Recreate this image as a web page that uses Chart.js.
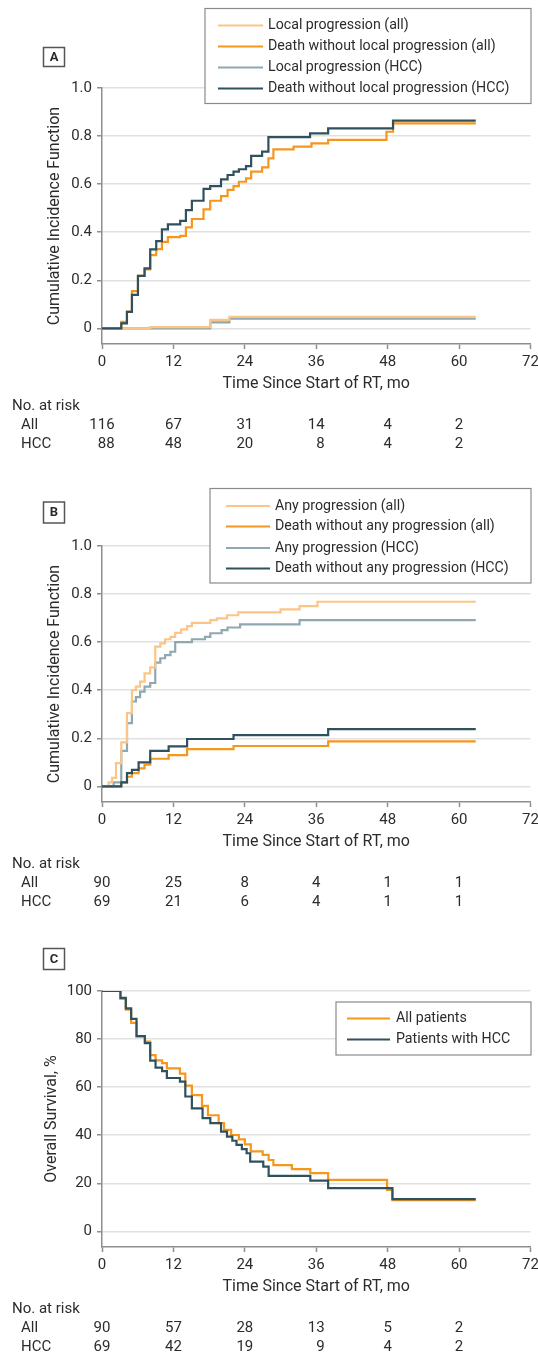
<!DOCTYPE html>
<html>
<head>
<meta charset="utf-8">
<script src="https://cdn.jsdelivr.net/npm/chart.js@4.4.1/dist/chart.umd.min.js"></script>
<style>
html,body{margin:0;padding:0;background:#fff;overflow:hidden;width:538px;height:1359px;}
.panel{position:absolute;left:0;width:538px;overflow:hidden;}
canvas{display:block;}
</style>
</head>
<body>
<div class="panel" style="top:0;height:458px"><canvas id="cA" width="545" height="458"></canvas></div>
<div class="panel" style="top:458px;height:460px"><canvas id="cB" width="545" height="460"></canvas></div>
<div class="panel" style="top:903px;height:456px"><canvas id="cC" width="545" height="456"></canvas></div>
<script>
// ---------- shared axis data ----------
const xTicks = [0, 12, 24, 36, 48, 60, 72];
const riskTimes = [0, 12, 24, 36, 48, 60];
const cifTickValues = [0, 0.2, 0.4, 0.6, 0.8, 1.0];
const cifTickLabels = ['0', '0.2', '0.4', '0.6', '0.8', '1.0'];
const osTickValues = [0, 20, 40, 60, 80, 100];
const osTickLabels = ['0', '20', '40', '60', '80', '100'];

// ---------- Panel A ----------
const aLabels = ['Local progression (all)', 'Death without local progression (all)', 'Local progression (HCC)', 'Death without local progression (HCC)'];
const aLocalAllT = [0, 8.1, 18.2, 21.4, 62.8];
const aLocalAllV = [0, 0.005, 0.035, 0.048, 0.048];
const aDeathAllT = [0, 3.24, 4.19, 5.03, 6.04, 7.15, 8.1, 9.11, 10.07, 11.07, 13.14, 14.1, 15.1, 17.06, 18.18, 20.0, 21.1, 22.1, 23.0, 24.2, 25.06, 26.9, 27.96, 28.8, 32.2, 35.2, 38.0, 47.8, 48.9, 62.8];
const aDeathAllV = [0, 0.027, 0.07, 0.155, 0.218, 0.245, 0.305, 0.33, 0.36, 0.38, 0.385, 0.42, 0.455, 0.495, 0.531, 0.55, 0.576, 0.592, 0.61, 0.624, 0.652, 0.67, 0.707, 0.745, 0.756, 0.77, 0.784, 0.818, 0.853, 0.853];
const aLocalHccT = [0, 18.2, 21.4, 62.8];
const aLocalHccV = [0, 0.025, 0.04, 0.04];
const aDeathHccT = [0, 3.24, 4.19, 5.03, 6.04, 7.15, 8.1, 9.11, 10.07, 11.07, 13.14, 14.1, 15.1, 17.06, 18.18, 20.0, 21.1, 22.1, 23.0, 24.2, 25.06, 26.9, 27.96, 34.96, 38.0, 48.9, 62.8];
const aDeathHccV = [0, 0.021, 0.069, 0.139, 0.218, 0.25, 0.329, 0.363, 0.412, 0.433, 0.447, 0.492, 0.531, 0.58, 0.592, 0.62, 0.638, 0.652, 0.662, 0.675, 0.718, 0.735, 0.796, 0.811, 0.832, 0.864, 0.864];
const aRiskAll = [116, 67, 31, 14, 4, 2];
const aRiskHcc = [88, 48, 20, 8, 4, 2];

// ---------- Panel B ----------
const bLabels = ['Any progression (all)', 'Death without any progression (all)', 'Any progression (HCC)', 'Death without any progression (HCC)'];
const bAnyAllT = [0, 1.1, 1.7, 2.35, 3.24, 4.2, 5.03, 5.7, 6.4, 7.15, 8.1, 8.95, 9.8, 10.6, 11.5, 12.3, 13.3, 14.3, 15.1, 18.2, 19.3, 21, 22.9, 30, 33.2, 36.2, 62.8];
const bAnyAllV = [0, 0.017, 0.035, 0.097, 0.183, 0.305, 0.4, 0.415, 0.436, 0.47, 0.495, 0.581, 0.595, 0.612, 0.622, 0.639, 0.653, 0.667, 0.68, 0.692, 0.699, 0.712, 0.724, 0.736, 0.75, 0.768, 0.768];
const bDeathAllT = [0, 3.24, 4.2, 5.03, 6.15, 7.15, 8.1, 11.2, 14.3, 22.1, 38.0, 62.8];
const bDeathAllV = [0, 0.017, 0.04, 0.055, 0.075, 0.09, 0.115, 0.13, 0.155, 0.168, 0.187, 0.187];
const bAnyHccT = [0, 1.95, 3.24, 4.2, 5.03, 5.7, 6.4, 7.15, 8.1, 8.95, 9.8, 10.6, 11.5, 12.3, 15.1, 17.3, 18.2, 20.1, 21.1, 23.2, 33.2, 62.8];
const bAnyHccV = [0, 0.017, 0.148, 0.263, 0.353, 0.371, 0.394, 0.415, 0.43, 0.515, 0.533, 0.546, 0.56, 0.6, 0.612, 0.622, 0.637, 0.65, 0.661, 0.674, 0.692, 0.692];
const bDeathHccT = [0, 3.24, 4.2, 5.03, 6.15, 8.1, 11.2, 14.3, 22.1, 38.0, 62.8];
const bDeathHccV = [0, 0.017, 0.055, 0.069, 0.1, 0.148, 0.166, 0.197, 0.213, 0.238, 0.238];
const bRiskAll = [90, 25, 8, 4, 1, 1];
const bRiskHcc = [69, 21, 6, 4, 1, 1];

// ---------- Panel C ----------
const cLabels = ['All patients', 'Patients with HCC'];
const cAllT = [0, 3.1, 4.0, 4.9, 5.8, 7.2, 8.1, 9.0, 10.1, 10.9, 13.1, 14.0, 15.1, 16.8, 17.8, 19.6, 20.5, 21.7, 23, 24, 25, 27, 28, 28.8, 31.9, 35, 38, 47.9, 48.8, 62.8];
const cAllV = [100, 96.7, 92.2, 86.7, 81.1, 78.9, 73.3, 71.1, 70, 67.8, 65.6, 60.6, 56.7, 52.2, 48.3, 45, 42.2, 40.1, 38.3, 36.2, 33.3, 31.8, 29.7, 27.6, 25.9, 24.2, 21.4, 17.3, 13.0, 13.0];
const cHccT = [0, 3.1, 4.0, 4.9, 5.8, 7.2, 8.1, 9.0, 10.1, 10.9, 13.1, 14.0, 15.1, 16.9, 18.2, 20.0, 21.0, 21.9, 22.6, 23.5, 24.3, 24.9, 27.1, 28, 35, 38, 48.8, 62.8];
const cHccV = [100, 97.1, 92.8, 88.4, 81.2, 78.3, 71, 68.1, 66.7, 63.8, 62.3, 56.1, 51.2, 47.1, 45, 41.5, 39.4, 37.7, 36, 34.2, 32.5, 29, 26.9, 23.1, 21.1, 18, 13.4, 13.4];
const cRiskAll = [90, 57, 28, 13, 5, 2];
const cRiskHcc = [69, 42, 19, 9, 4, 2];

// ---------- styling ----------
const FONT = 'Roboto, "Liberation Sans", sans-serif';
const TXT = '#2c2c2c';
const AXIS = '#8e8e8e';
const GRID = '#e1e1e1';
const LIGHT_ORANGE = '#FBC585';
const ORANGE = '#F5961E';
const LIGHT_BLUE = '#8FA7B1';
const DARK = '#2F505D';

function steps(T, V) { return T.map((t, i) => ({ x: t, y: V[i] })); }

function ds(label, T, V, color, order) {
  return { label, data: steps(T, V), borderColor: color, backgroundColor: color,
    borderWidth: 2.2, pointRadius: 0, stepped: true, tension: 0, fill: false, order,
    borderJoinStyle: 'miter', borderCapStyle: 'butt' };
}

const decor = {
  id: 'decor',
  afterDraw(chart, args, o) {
    const ctx = chart.ctx;
    const xs = chart.scales.x;
    ctx.save();
    // panel label
    const P = o.label;
    ctx.lineWidth = 1.5; ctx.strokeStyle = '#555';
    ctx.strokeRect(P.x, P.y, P.w, P.h);
    ctx.fillStyle = '#2b2b2b'; ctx.font = 'bold 13px ' + FONT;
    ctx.textAlign = 'center'; ctx.textBaseline = 'middle';
    ctx.fillText(P.text, P.x + P.w / 2, P.y + P.h / 2 + 0.5);
    // legend
    const L = o.legend;
    ctx.fillStyle = '#fff';
    ctx.fillRect(L.x1, L.y1, L.x2 - L.x1, L.y2 - L.y1);
    ctx.lineWidth = 1.2; ctx.strokeStyle = '#8a8a8a';
    ctx.strokeRect(L.x1, L.y1, L.x2 - L.x1, L.y2 - L.y1);
    ctx.font = '14.2px ' + FONT; ctx.textAlign = 'left'; ctx.textBaseline = 'middle';
    chart.data.datasets.forEach((d, i) => {
      const y = L.rows[i];
      ctx.strokeStyle = d.borderColor; ctx.lineWidth = 2.2;
      ctx.beginPath(); ctx.moveTo(L.lx1, y); ctx.lineTo(L.lx2, y); ctx.stroke();
      ctx.fillStyle = TXT;
      ctx.fillText(d.label, L.tx, y);
    });
    // number at risk table
    const R = o.risk;
    ctx.font = '15px ' + FONT; ctx.fillStyle = TXT; ctx.textBaseline = 'middle';
    ctx.textAlign = 'left';
    ctx.fillText('No. at risk', 12, R.headerY);
    R.rows.forEach((row, r) => {
      ctx.textAlign = 'left';
      ctx.fillText(row.name, 21, R.rowY[r]);
    });
    riskTimes.forEach((t, i) => {
      const px = xs.getPixelForValue(t);
      const wAll = ctx.measureText(String(R.rows[0].values[i])).width;
      const right = px + wAll / 2;
      ctx.textAlign = 'right';
      R.rows.forEach((row, r) => ctx.fillText(String(row.values[i]), right, R.rowY[r]));
    });
    ctx.restore();
  }
};

function makeChart(id, datasets, yCfg, decorOpts, bottomPad, yTitlePad) {
  return new Chart(document.getElementById(id), {
    type: 'line',
    data: { datasets },
    plugins: [decor],
    options: {
      responsive: false, animation: false,
      layout: { padding: { top: 88, right: 14.5, left: 0, bottom: bottomPad } },
      plugins: { legend: { display: false }, tooltip: { enabled: false }, decor: decorOpts },
      scales: {
        x: {
          type: 'linear', min: 0, max: 72,
          afterBuildTicks: s => { s.ticks = xTicks.map(v => ({ value: v })); },
          afterFit: s => { s.height = 50; },
          ticks: { font: { family: FONT, size: 15 }, color: TXT, padding: 4, maxRotation: 0, autoSkip: false,
                   callback: v => String(v) },
          grid: { drawOnChartArea: false, drawTicks: true, tickLength: 5, tickColor: AXIS, tickWidth: 1.5 },
          border: { color: AXIS, width: 1.5 },
          title: { display: true, text: 'Time Since Start of RT, mo', color: TXT,
                   font: { family: FONT, size: 16 }, padding: { top: 0, bottom: 0 } }
        },
        y: {
          type: 'linear', min: yCfg.min, max: yCfg.max,
          afterBuildTicks: s => { s.ticks = yCfg.values.map(v => ({ value: v })); },
          afterFit: s => { s.width = 102; },
          ticks: { font: { family: FONT, size: 15 }, color: TXT, padding: 5, autoSkip: false,
                   callback: (v, i) => yCfg.labels[i] },
          grid: { color: GRID, lineWidth: 1.5, drawTicks: true, tickLength: 5, tickColor: AXIS, tickWidth: 1.5 },
          border: { color: AXIS, width: 1.5 },
          title: { display: true, text: yCfg.title, color: TXT,
                   font: { family: FONT, size: 16 }, padding: { top: yTitlePad, bottom: 0 } }
        }
      }
    }
  });
}

const riskRowsY = { headerY: 406.5, rowY: [425.5, 444.5] };

makeChart('cA', [
  ds(aLabels[0], aLocalAllT, aLocalAllV, LIGHT_ORANGE, 1),
  ds(aLabels[1], aDeathAllT, aDeathAllV, ORANGE, 2),
  ds(aLabels[2], aLocalHccT, aLocalHccV, LIGHT_BLUE, 3),
  ds(aLabels[3], aDeathHccT, aDeathHccV, DARK, 0)
], { min: -0.065, max: 1, values: cifTickValues, labels: cifTickLabels, title: 'Cumulative Incidence Function' },
{ label: { text: 'A', x: 43.5, y: 47.5, w: 21, h: 19 },
  legend: { x1: 205, y1: 8.5, x2: 531, y2: 103.5, lx1: 218, lx2: 263, tx: 268, rows: [25.5, 46.5, 67.5, 88.5] },
  risk: { headerY: riskRowsY.headerY, rowY: riskRowsY.rowY, rows: [{ name: 'All', values: aRiskAll }, { name: 'HCC', values: aRiskHcc }] } },
64, 45);

makeChart('cB', [
  ds(bLabels[0], bAnyAllT, bAnyAllV, LIGHT_ORANGE, 1),
  ds(bLabels[1], bDeathAllT, bDeathAllV, ORANGE, 2),
  ds(bLabels[2], bAnyHccT, bAnyHccV, LIGHT_BLUE, 3),
  ds(bLabels[3], bDeathHccT, bDeathHccV, DARK, 0)
], { min: -0.065, max: 1, values: cifTickValues, labels: cifTickLabels, title: 'Cumulative Incidence Function' },
{ label: { text: 'B', x: 43.5, y: 44, w: 21, h: 21 },
  legend: { x1: 210, y1: 30.5, x2: 531, y2: 125, lx1: 226, lx2: 270, tx: 275, rows: [48, 68.5, 90, 110.5] },
  risk: { headerY: riskRowsY.headerY, rowY: riskRowsY.rowY, rows: [{ name: 'All', values: bRiskAll }, { name: 'HCC', values: bRiskHcc }] } },
66, 45);

makeChart('cC', [
  ds(cLabels[0], cAllT, cAllV, ORANGE, 1),
  ds(cLabels[1], cHccT, cHccV, DARK, 0)
], { min: -6.5, max: 100, values: osTickValues, labels: osTickLabels, title: 'Overall Survival, %' },
{ label: { text: 'C', x: 43.5, y: 45.5, w: 21, h: 21 },
  legend: { x1: 336, y1: 99, x2: 531, y2: 152, lx1: 347, lx2: 390, tx: 396, rows: [115.5, 136.5] },
  risk: { headerY: riskRowsY.headerY, rowY: riskRowsY.rowY, rows: [{ name: 'All', values: cRiskAll }, { name: 'HCC', values: cRiskHcc }] } },
62, 42);
</script>
</body>
</html>
